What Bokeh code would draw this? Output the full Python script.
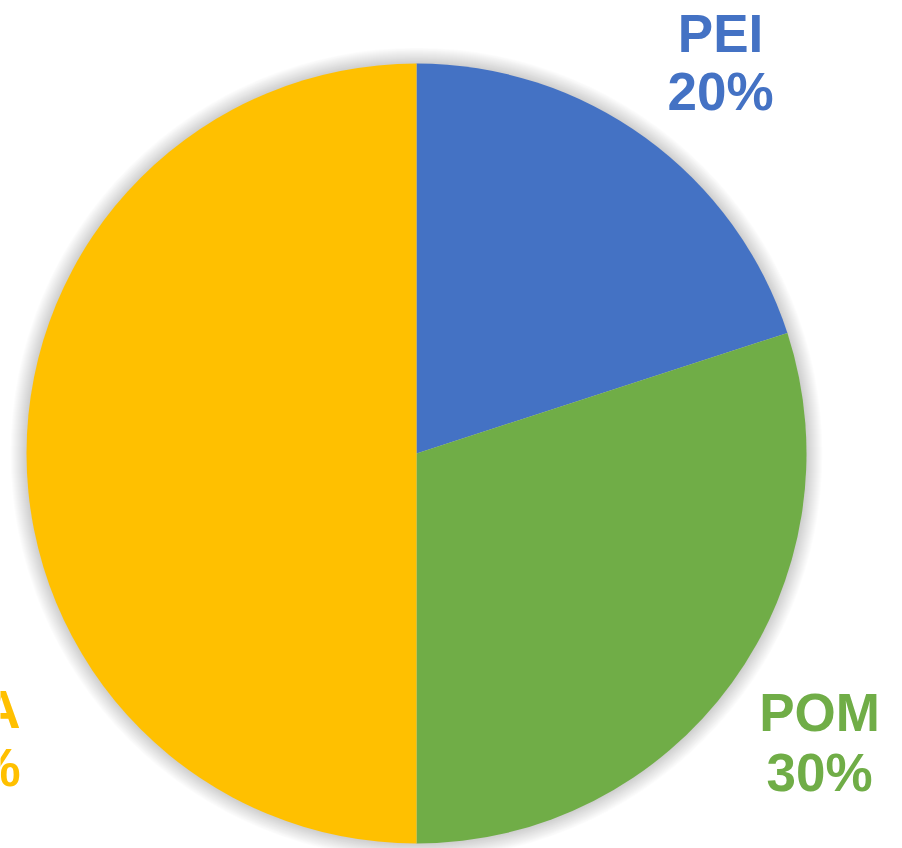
import math
from bokeh.plotting import figure
from bokeh.models import ColumnDataSource
from bokeh.core.properties import value
from bokeh.embed import file_html
from bokeh.resources import INLINE

# ---- data ----
categories = ["PEI", "POM", "PLA"]
shares = [20, 30, 50]
pct_labels = ["20%", "30%", "50%"]
colors = ["#4472C4", "#70AD47", "#FFC000"]

W, H = 902, 848
p = figure(width=W, height=H, output_backend="svg", toolbar_location=None,
           x_range=(0, W), y_range=(0, H), min_border=0)
p.axis.visible = False
p.grid.visible = False
p.outline_line_color = None
p.background_fill_color = "white"
p.border_fill_color = "white"

# pie geometry (pixel units = data units)
cx, cy, R = 416, 395, 390

# soft shadow around the pie
shadow_r = [R + i for i in range(1, 17)]
p.circle(x=[cx] * len(shadow_r), y=[cy] * len(shadow_r), radius=shadow_r,
         fill_color="black", fill_alpha=0.012, line_color=None)

total = sum(shares)
starts, ends = [], []
cum = 0
for s in shares:
    a0 = math.pi / 2 - 2 * math.pi * cum / total
    a1 = a0 - 2 * math.pi * s / total
    starts.append(a0)
    ends.append(a1)
    cum += s

src = ColumnDataSource(dict(cat=categories, start=starts, end=ends, color=colors))
p.wedge(x=cx, y=cy, radius=R, start_angle="start", end_angle="end",
        direction="clock", fill_color="color", line_color=None, source=src)

# label placement (data coords)
lab_x = [720, 819, -33]
lab_y1 = [815, 136, 139]
lab_y2 = [757, 76, 81]

lsrc = ColumnDataSource(dict(x=lab_x, y1=lab_y1, y2=lab_y2, name=categories,
                             pct=pct_labels, color=colors))
for ycol, tcol in (("y1", "name"), ("y2", "pct")):
    p.text(x="x", y=ycol, text=tcol, source=lsrc, text_color="color",
           text_font=value("Liberation Sans"), text_font_style="bold",
           text_font_size="53px", text_align="center", text_baseline="middle")

open("out.html", "w").write(file_html(p, INLINE))
